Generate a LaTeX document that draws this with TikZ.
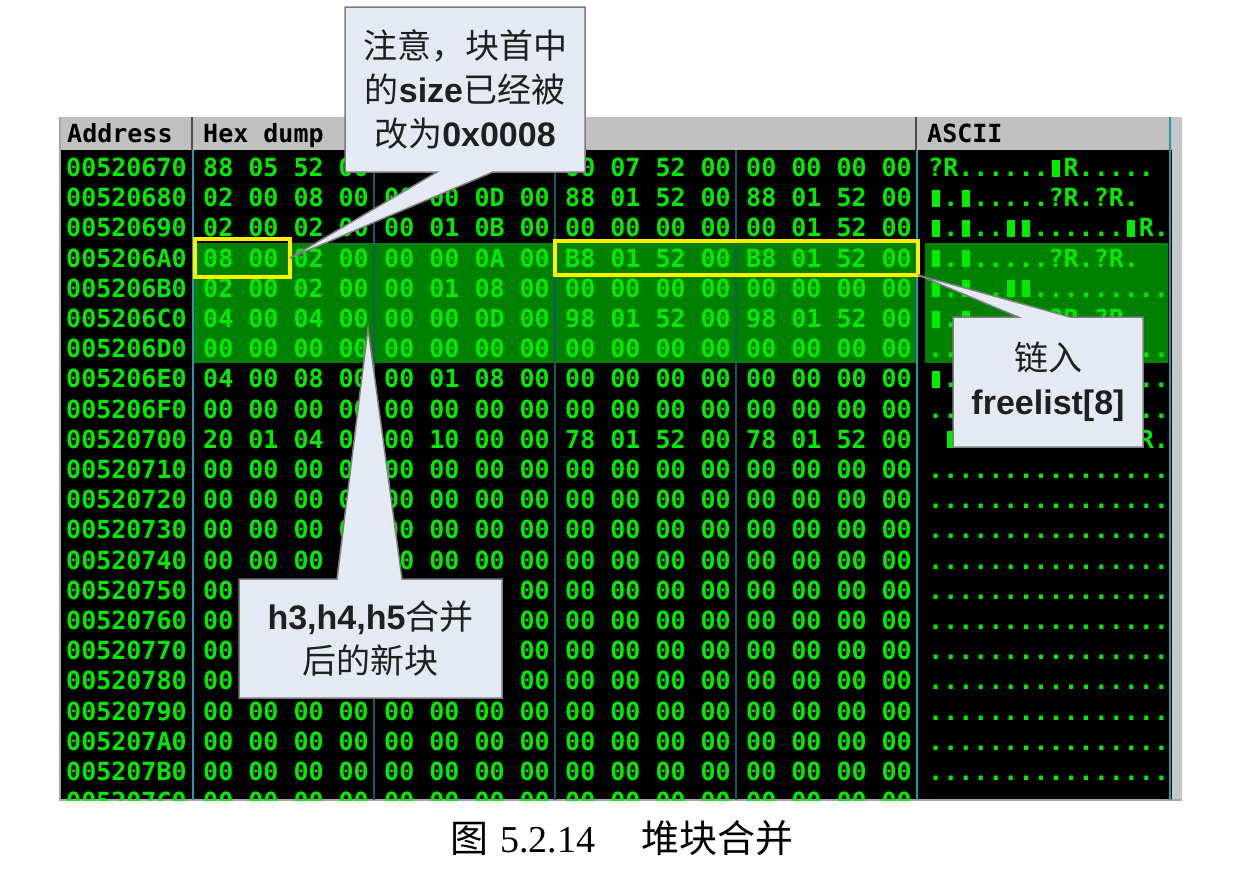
\documentclass[tikz,border=0pt]{standalone}
\usepackage{fontspec}
\setmainfont{Liberation Sans}
\newfontfamily\cjk{Noto Sans CJK SC}
\newfontfamily\capserif{Liberation Serif}
\newfontfamily\dumpfont{DejaVu Sans Mono}
\usetikzlibrary{calc}
\definecolor{dumpgreen}{RGB}{0,235,0}
\definecolor{hlgreen}{RGB}{0,128,0}
\definecolor{sepbright}{RGB}{40,150,170}
\definecolor{sepdark}{RGB}{20,90,100}
\definecolor{headgray}{RGB}{192,192,192}
\definecolor{notebg}{RGB}{228,234,244}
\definecolor{noteedge}{RGB}{125,125,125}
\definecolor{markyellow}{RGB}{255,240,0}
\newcommand\blk{\makebox[0.602em]{\rule{8pt}{17pt}}}
\newcommand\gap{\phantom{000000000000}}
\def\hexrow#1#2#3#4#5#6#7{%
	\node[dump] (adr#1) at (66,{176.5+30.2*#1}) {#2};
	\node[dump] (ga#1) at (203,{176.5+30.2*#1}) {#3};
	\node[dump] (gb#1) at (384,{176.5+30.2*#1}) {#4};
	\node[dump] (gc#1) at (565,{176.5+30.2*#1}) {#5};
	\node[dump] (gd#1) at (746,{176.5+30.2*#1}) {#6};
	\node[dump] (asc#1) at (928,{176.5+30.2*#1}) {#7};
}

\begin{document}
\begin{tikzpicture}[x=1pt,y=-1pt,
		dump/.style={anchor=base west, inner sep=0pt, text=dumpgreen, font=\dumpfont\bfseries\fontsize{25}{25}\selectfont},
		headtxt/.style={dump, text=black},
		sepb/.style={line width=2pt, color=sepbright},
		sepd/.style={line width=2pt, color=sepdark},
		markbox/.style={draw=markyellow, line width=4pt, inner sep=0pt, outer sep=0pt},
		notebox/.style={fill=notebg, inner sep=0pt, outer sep=0pt, align=center, text=black!88, font=\fontsize{34}{44}\selectfont},
		noteline/.style={draw=noteedge, line width=1.5pt, line join=miter},
		caption/.style={inner sep=0pt, font=\fontsize{38}{40}\selectfont}]
	%%%%% START %%%%%
	
	\useasboundingbox (0,0) rectangle (1246,870);
	\fill[white] (0,0) rectangle (1246,870);
	
	\fill[headgray] (60,117) rectangle (1172,150);
	\draw[line width=2pt, black!70] (192,117) -- (192,150);
	\draw[line width=2pt, black!70] (916,117) -- (916,150);
	\node[headtxt] (hdadr) at (67,142.5) {Address};
	\node[headtxt] (hdhex) at (203,142.5) {Hex dump};
	\node[headtxt] (hdasc) at (927,142.5) {ASCII};
	
	\fill[black] (60,150) rectangle (1172,800);
	\fill[black!22] (1172,117) rectangle (1182,800);
	\draw[line width=1.5pt, black!35] (60,117) -- (60,800) -- (1182,800);
	
	\fill[hlgreen] (194,243) rectangle (916,363);
	\fill[hlgreen] (925,243) rectangle (1168,363);
	
	\draw[sepb] (193,150) -- (193,800);
	\draw[sepd] (374,150) -- (374,800);
	\draw[sepd] (555,150) -- (555,800);
	\draw[sepd] (736,150) -- (736,800);
	\draw[sepb] (917,150) -- (917,800);
	\draw[sepb] (1170,117) -- (1170,800);
	
	\begin{scope}
		\clip (60,150) rectangle (1172,800);
		\hexrow{0}{00520670}{88 05 52 00}{\phantom{00}}{00 07 52 00}{00 00 00 00}{?R......\blk R.....}
		\hexrow{1}{00520680}{02 00 08 00}{00 00 0D 00}{88 01 52 00}{88 01 52 00}{\blk.\blk.....?R.?R.}
		\hexrow{2}{00520690}{02 00 02 00}{00 01 0B 00}{00 00 00 00}{00 01 52 00}{\blk.\blk..\blk\blk......\blk R.}
		\hexrow{3}{005206A0}{08 00 02 00}{00 00 0A 00}{B8 01 52 00}{B8 01 52 00}{\blk.\blk.....?R.?R.}
		\hexrow{4}{005206B0}{02 00 02 00}{00 01 08 00}{00 00 00 00}{00 00 00 00}{\blk.\blk..\blk\blk.........}
		\hexrow{5}{005206C0}{04 00 04 00}{00 00 0D 00}{98 01 52 00}{98 01 52 00}{\blk.\blk.....?R.?R.}
		\hexrow{6}{005206D0}{00 00 00 00}{00 00 00 00}{00 00 00 00}{00 00 00 00}{..\gap..}
		\hexrow{7}{005206E0}{04 00 08 00}{00 01 08 00}{00 00 00 00}{00 00 00 00}{\blk.\gap..}
		\hexrow{8}{005206F0}{00 00 00 00}{00 00 00 00}{00 00 00 00}{00 00 00 00}{..\gap..}
		\hexrow{9}{00520700}{20 01 04 00}{00 10 00 00}{78 01 52 00}{78 01 52 00}{\phantom{0}\blk\gap R.}
		\hexrow{10}{00520710}{00 00 00 00}{00 00 00 00}{00 00 00 00}{00 00 00 00}{................}
		\hexrow{11}{00520720}{00 00 00 00}{00 00 00 00}{00 00 00 00}{00 00 00 00}{................}
		\hexrow{12}{00520730}{00 00 00 00}{00 00 00 00}{00 00 00 00}{00 00 00 00}{................}
		\hexrow{13}{00520740}{00 00 00 00}{00 00 00 00}{00 00 00 00}{00 00 00 00}{................}
		\hexrow{14}{00520750}{00}{\phantom{00 00 00} 00}{00 00 00 00}{00 00 00 00}{................}
		\hexrow{15}{00520760}{00}{\phantom{00 00 00} 00}{00 00 00 00}{00 00 00 00}{................}
		\hexrow{16}{00520770}{00}{\phantom{00 00 00} 00}{00 00 00 00}{00 00 00 00}{................}
		\hexrow{17}{00520780}{00}{\phantom{00 00 00} 00}{00 00 00 00}{00 00 00 00}{................}
		\hexrow{18}{00520790}{00 00 00 00}{00 00 00 00}{00 00 00 00}{00 00 00 00}{................}
		\hexrow{19}{005207A0}{00 00 00 00}{00 00 00 00}{00 00 00 00}{00 00 00 00}{................}
		\hexrow{20}{005207B0}{00 00 00 00}{00 00 00 00}{00 00 00 00}{00 00 00 00}{................}
		\hexrow{21}{005207C0}{00 00 00 00}{00 00 00 00}{00 00 00 00}{00 00 00 00}{................}
	\end{scope}
	
	\node[markbox, minimum width=95pt, minimum height=38pt] (mark1) at (242.5,258) {};
	\node[markbox, minimum width=363pt, minimum height=34pt] (mark2) at (736.5,258) {};
	\coordinate (tip3) at (368,328);
	
	% callout: size
	\node[notebox, minimum width=240pt, minimum height=165pt] (note1) at (465,89.5) {{\cjk 注意，块首中}\\{\cjk 的}\textbf{size}{\cjk 已经被}\\{\cjk 改为}\textbf{0x0008}};
	\fill[notebg] ($(note1.south west)+(92,0)$) -- (mark1.east) -- ($(note1.south west)+(148,0)$) -- cycle;
	\draw[noteline] (note1.south west) -- ($(note1.south west)+(92,0)$) -- (mark1.east) -- ($(note1.south west)+(148,0)$) -- (note1.south east) -- (note1.north east) -- (note1.north west) -- cycle;
	
	% callout: freelist
	\node[notebox, minimum width=190pt, minimum height=130pt] (note2) at (1048,382) {{\cjk 链入}\\\textbf{freelist[8]}};
	\fill[notebg] ($(note2.north west)+(65,0)$) -- (mark2.south east) -- ($(note2.north west)+(117,0)$) -- cycle;
	\draw[noteline] (note2.south west) -- (note2.north west) -- ($(note2.north west)+(65,0)$) -- (mark2.south east) -- ($(note2.north west)+(117,0)$) -- (note2.north east) -- (note2.south east) -- cycle;
	
	% callout: new block
	\node[notebox, minimum width=263pt, minimum height=119pt] (note3) at (370.5,638.5) {\textbf{h3,h4,h5}{\cjk 合并}\\{\cjk 后的新块}};
	\fill[notebg] ($(note3.north west)+(98,0)$) -- (tip3) -- ($(note3.north west)+(163,0)$) -- cycle;
	\draw[noteline] (note3.south west) -- (note3.north west) -- ($(note3.north west)+(98,0)$) -- (tip3) -- ($(note3.north west)+(163,0)$) -- (note3.north east) -- (note3.south east) -- cycle;
	
	\node[caption] (cap) at (621.5,838) {{\cjk 图}\hspace{12pt}{\capserif 5.2.14}\hspace{46pt}{\cjk 堆块合并}};
	
	%%%%% END %%%%%
\end{tikzpicture}
\end{document}
